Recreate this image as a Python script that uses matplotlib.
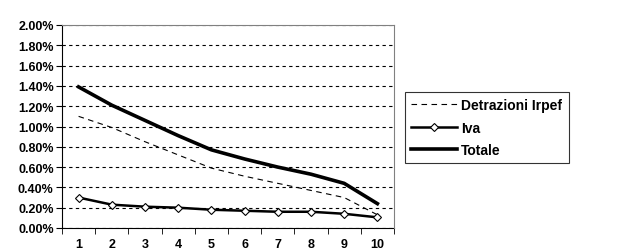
import matplotlib.pyplot as plt
from matplotlib.ticker import FixedLocator, FuncFormatter

plt.rcParams['font.family'] = ['Liberation Sans', 'DejaVu Sans']
plt.rcParams['font.weight'] = 'bold'

# data (percent)
decili = [1, 2, 3, 4, 5, 6, 7, 8, 9, 10]
detrazioni = [1.10, 0.99, 0.85, 0.72, 0.59, 0.51, 0.44, 0.37, 0.30, 0.13]
iva = [0.30, 0.23, 0.21, 0.20, 0.18, 0.17, 0.16, 0.16, 0.14, 0.105]
totale = [1.39, 1.21, 1.06, 0.91, 0.77, 0.68, 0.60, 0.53, 0.44, 0.24]

fig = plt.figure(figsize=(6.32, 2.53), dpi=100)
ax = fig.add_axes([62 / 632, 24 / 253, 332 / 632, 203 / 253])

ax.plot(decili, detrazioni, color='black', lw=0.8, ls=(0, (5, 4)), label='Detrazioni Irpef')
ax.plot(decili, iva, color='black', lw=1.8, marker='D', ms=4.5, mfc='white', mec='black',
        mew=0.8, label='Iva')
ax.plot(decili, totale, color='black', lw=2.6, label='Totale')

ax.set_xlim(0.5, 10.5)
ax.set_ylim(0, 2.0)
ax.set_yticks([i * 0.2 for i in range(11)])
ax.yaxis.set_major_formatter(FuncFormatter(lambda v, p: f'{v:.2f}%'))
ax.set_xticks(decili)
ax.xaxis.set_minor_locator(FixedLocator([i + 0.5 for i in range(0, 11)]))
ax.tick_params(axis='x', which='major', length=0, labelsize=9, pad=7)
ax.tick_params(axis='x', which='minor', length=4, direction='out')
ax.tick_params(axis='y', length=4, direction='out', labelsize=9, pad=2)

ax.grid(axis='y', color='black', ls=(0, (3, 3)), lw=0.8)
for s in ['top', 'right']:
    ax.spines[s].set_color('#808080')
    ax.spines[s].set_zorder(5)
ax.spines['left'].set_color('black')
ax.spines['bottom'].set_color('black')

leg = ax.legend(loc='upper left', bbox_to_anchor=(405 / 632, 1 - 93 / 253), bbox_transform=fig.transFigure,
                borderaxespad=0, fontsize=10, frameon=True, fancybox=False, edgecolor='black',
                borderpad=0.45, handlelength=3.3, handletextpad=0.3, labelspacing=0.6)
leg.get_frame().set_linewidth(0.8)
for t in leg.get_texts():
    t.set_fontweight('bold')

fig.savefig('out.png', dpi=100)
